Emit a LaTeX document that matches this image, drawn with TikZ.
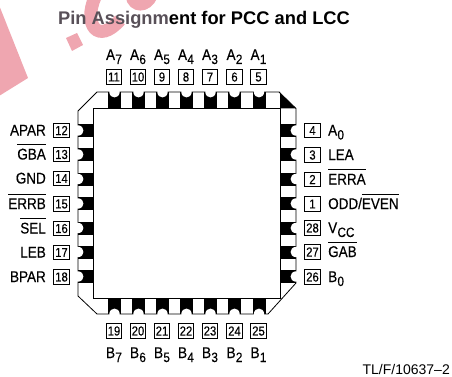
\documentclass[tikz,border=0pt]{standalone}
\usepackage{fontspec}
\setmainfont{Liberation Sans}
\newfontfamily\pinfont[FakeStretch=0.87,FakeBold=0.4]{Liberation Sans}
\definecolor{markpink}{HTML}{EFA6B0}
\newcommand{\ovl}[1]{$\overline{\hbox{\rule{0pt}{13.5pt}#1}}$}
\newcommand{\subpin}[2]{#1\kern0.3pt\lower4pt\hbox{\fontsize{13.5}{14}\selectfont #2}}
\begin{document}
\begin{tikzpicture}[x=1pt,y=-1pt,
  numbox/.style={draw,line width=0.7pt,minimum width=15.5pt,minimum height=14.5pt,inner sep=0pt,font=\pinfont\fontsize{13}{14}\selectfont},
  pinlabel/.style={inner sep=0pt,font=\pinfont\fontsize{15.5}{16}\selectfont},
  pkgline/.style={line width=0.8pt,line join=miter},
  pin/.pic={
    \fill[black] (-6.5,0) rectangle (6.5,16);
    \fill[white] (-5.2,-1.2) -- (-5.2,0.6) .. controls (-4,7) and (4,7) .. (5.2,0.6) -- (5.2,-1.2) -- cycle;
  }]
\useasboundingbox (0,0) rectangle (452,377);
\begin{scope}
\clip (0,0) rectangle (452,377);
\fill[markpink] (-1,5) -- (28,78) -- (-1,96) -- cycle;
\fill[markpink] (66,38) -- (77,33) -- (83,45) -- (72,51) -- cycle;
\draw[markpink,line width=13pt] (95,-3) .. controls (83,25) and (98,45) .. (120,20);
\draw[markpink,line width=11pt] (131,-4) .. controls (133,8) and (147,8) .. (152,-4);
\end{scope}
\node[font=\bfseries\fontsize{18.3}{20}\selectfont] (title) at (204,20) {\textcolor[HTML]{585058}{Pin Assignm}ent for PCC and LCC};
\draw[pkgline,fill=white] (97,92) -- (279,92) -- (296,108.5) -- (296,283) -- (268,314) -- (97,314) -- (78,296) -- (78,111) -- cycle;
\fill[black] (279,92) -- (296,108.5) -- (280,108.5) -- (280,92) -- cycle;
\draw[pkgline] (93.5,108.5) rectangle (280,298);
\pic at (114.5,92) {pin};
\pic at (138.5,92) {pin};
\pic at (162.5,92) {pin};
\pic at (186.5,92) {pin};
\pic at (210.5,92) {pin};
\pic at (234.5,92) {pin};
\pic at (259,92) {pin};
\pic[rotate=180] at (114.5,314) {pin};
\pic[rotate=180] at (138.5,314) {pin};
\pic[rotate=180] at (162.5,314) {pin};
\pic[rotate=180] at (186.5,314) {pin};
\pic[rotate=180] at (210.5,314) {pin};
\pic[rotate=180] at (234.5,314) {pin};
\pic[rotate=180] at (259,314) {pin};
\pic[rotate=90] at (78,130.5) {pin};
\pic[rotate=90] at (78,154.5) {pin};
\pic[rotate=90] at (78,179) {pin};
\pic[rotate=90] at (78,203.5) {pin};
\pic[rotate=90] at (78,228) {pin};
\pic[rotate=90] at (78,252) {pin};
\pic[rotate=90] at (78,276.5) {pin};
\pic[rotate=-90] at (296,130.5) {pin};
\pic[rotate=-90] at (296,154.5) {pin};
\pic[rotate=-90] at (296,179) {pin};
\pic[rotate=-90] at (296,203.5) {pin};
\pic[rotate=-90] at (296,228) {pin};
\pic[rotate=-90] at (296,252) {pin};
\pic[rotate=-90] at (296,276.5) {pin};
\node[numbox] (n11) at (114,77) {11};
\node[numbox] (n10) at (138,77) {10};
\node[numbox] (n9) at (162,77) {9};
\node[numbox] (n8) at (186,77) {8};
\node[numbox] (n7) at (210,77) {7};
\node[numbox] (n6) at (234.5,77) {6};
\node[numbox] (n5) at (258.5,77) {5};
\node[pinlabel,anchor=base] (a7) at (114,60) {\subpin{A}{7}};
\node[pinlabel,anchor=base] (a6) at (138,60) {\subpin{A}{6}};
\node[pinlabel,anchor=base] (a5) at (162,60) {\subpin{A}{5}};
\node[pinlabel,anchor=base] (a4) at (186,60) {\subpin{A}{4}};
\node[pinlabel,anchor=base] (a3) at (210,60) {\subpin{A}{3}};
\node[pinlabel,anchor=base] (a2) at (234.5,60) {\subpin{A}{2}};
\node[pinlabel,anchor=base] (a1) at (258.5,60) {\subpin{A}{1}};
\node[numbox] (n19) at (114,331) {19};
\node[numbox] (n20) at (138,331) {20};
\node[numbox] (n21) at (162,331) {21};
\node[numbox] (n22) at (186,331) {22};
\node[numbox] (n23) at (210,331) {23};
\node[numbox] (n24) at (234.5,331) {24};
\node[numbox] (n25) at (258.5,331) {25};
\node[pinlabel,anchor=base] (b7) at (114,358) {\subpin{B}{7}};
\node[pinlabel,anchor=base] (b6) at (138,358) {\subpin{B}{6}};
\node[pinlabel,anchor=base] (b5) at (162,358) {\subpin{B}{5}};
\node[pinlabel,anchor=base] (b4) at (186,358) {\subpin{B}{4}};
\node[pinlabel,anchor=base] (b3) at (210,358) {\subpin{B}{3}};
\node[pinlabel,anchor=base] (b2) at (234.5,358) {\subpin{B}{2}};
\node[pinlabel,anchor=base] (b1) at (258.5,358) {\subpin{B}{1}};
\node[numbox] (n12) at (61.5,130.5) {12};
\node[numbox] (n13) at (61.5,154.5) {13};
\node[numbox] (n14) at (61.5,178.5) {14};
\node[numbox] (n15) at (61.5,204) {15};
\node[numbox] (n16) at (61.5,228.5) {16};
\node[numbox] (n17) at (61.5,252.5) {17};
\node[numbox] (n18) at (61.5,277) {18};
\node[pinlabel,anchor=base east] (apar) at (46,135.5) {APAR};
\node[pinlabel,anchor=base east] (gba) at (46,159.5) {\ovl{GBA}};
\node[pinlabel,anchor=base east] (gnd) at (46,183.5) {GND};
\node[pinlabel,anchor=base east] (errb) at (46,209) {\ovl{ERRB}};
\node[pinlabel,anchor=base east] (sel) at (46,233.5) {\ovl{SEL}};
\node[pinlabel,anchor=base east] (leb) at (46,257.5) {LEB};
\node[pinlabel,anchor=base east] (bpar) at (46,282) {BPAR};
\node[numbox] (n4) at (312.5,130.5) {4};
\node[numbox] (n3) at (312.5,155) {3};
\node[numbox] (n2) at (312.5,179.5) {2};
\node[numbox] (n1) at (312.5,204) {1};
\node[numbox] (n28) at (312.5,228) {28};
\node[numbox] (n27) at (312.5,252) {27};
\node[numbox] (n26) at (312.5,277) {26};
\node[pinlabel,anchor=base west] (a0) at (328,135.5) {\subpin{A}{0}};
\node[pinlabel,anchor=base west] (lea) at (328,160) {LEA};
\node[pinlabel,anchor=base west] (erra) at (328,184.5) {\ovl{ERRA}};
\node[pinlabel,anchor=base west] (oddeven) at (328,209) {ODD/\ovl{EVEN}};
\node[pinlabel,anchor=base west] (vcc) at (328,233) {\subpin{V}{CC}};
\node[pinlabel,anchor=base west] (gab) at (328,257) {\ovl{GAB}};
\node[pinlabel,anchor=base west] (b0) at (328,282) {\subpin{B}{0}};
\node[anchor=base east,inner sep=0pt,font=\fontsize{14}{15}\selectfont] (ref) at (450,374) {TL/F/10637--2};
\end{tikzpicture}
\end{document}
